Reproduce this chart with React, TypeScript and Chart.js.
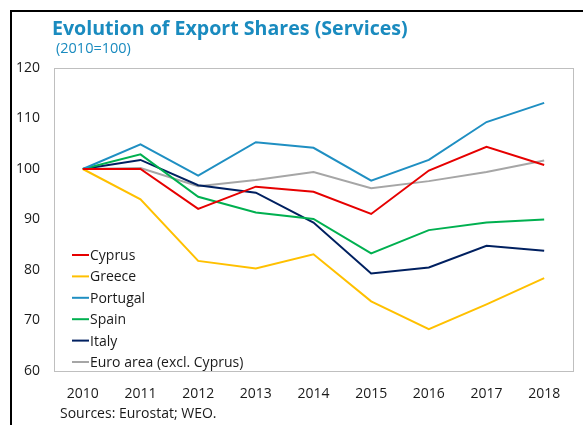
import React, { useEffect, useRef } from "react";
import { Chart, registerables } from "chart.js";

Chart.register(...registerables);

const years = ["2010", "2011", "2012", "2013", "2014", "2015", "2016", "2017", "2018"];
const cyprus = [100, 100.0, 92.1, 96.5, 95.5, 91.1, 99.7, 104.4, 100.8];
const greece = [100, 94.0, 81.8, 80.3, 83.1, 73.8, 68.3, 73.2, 78.4];
const portugal = [100, 104.9, 98.7, 105.3, 104.2, 97.7, 101.8, 109.3, 113.1];
const spain = [100, 102.9, 94.5, 91.4, 90.1, 83.3, 87.9, 89.4, 90.0];
const italy = [100, 101.8, 96.8, 95.3, 89.4, 79.3, 80.5, 84.8, 83.8];
const euroArea = [100, 100.2, 96.6, 97.8, 99.4, 96.2, 97.6, 99.4, 101.7];

const seriesNames = ["Cyprus", "Greece", "Portugal", "Spain", "Italy", "Euro area (excl. Cyprus)"];
const seriesColors = ["#e60000", "#ffc000", "#1f8fc2", "#00b050", "#002060", "#a6a6a6"];

const FONT = "'Open Sans', 'Noto Sans', sans-serif";

const legendPlugin = {
  id: "insideLegend",
  afterDraw(chart: any) {
    const ctx = chart.ctx;
    const area = chart.chartArea;
    const x0 = area.left + 18;
    const y0 = area.top + 187;
    const step = 21.4;
    ctx.save();
    ctx.font = `14px ${FONT}`;
    ctx.textBaseline = "middle";
    ctx.textAlign = "left";
    chart.data.datasets.forEach((ds: any, i: number) => {
      const y = y0 + i * step;
      ctx.strokeStyle = ds.borderColor;
      ctx.lineWidth = 2;
      ctx.beginPath();
      ctx.moveTo(x0, y);
      ctx.lineTo(x0 + 17, y);
      ctx.stroke();
      ctx.fillStyle = "#1a1a1a";
      ctx.fillText(ds.label, x0 + 18, y + 1);
    });
    ctx.restore();
  },
};

export default function App() {
  const ref = useRef<HTMLCanvasElement | null>(null);

  useEffect(() => {
    if (!ref.current) return;
    const allData = [cyprus, greece, portugal, spain, italy, euroArea];
    const chart = new Chart(ref.current, {
      type: "line",
      data: {
        labels: years,
        datasets: allData.map((d, i) => ({
          label: seriesNames[i],
          data: d,
          borderColor: seriesColors[i],
          backgroundColor: seriesColors[i],
          borderWidth: 2,
          pointRadius: 0,
          tension: 0,
          fill: false,
        })),
      },
      options: {
        animation: false,
        responsive: false,
        maintainAspectRatio: false,
        layout: { padding: { left: 0, right: 10, top: 68, bottom: 0 } },
        plugins: {
          legend: { display: false },
          title: { display: false },
          tooltip: { enabled: false },
        },
        scales: {
          x: {
            type: "category",
            offset: true,
            grid: { display: false, drawTicks: false },
            border: { display: true, color: "#bfbfbf", width: 1 },
            ticks: {
              color: "#1a1a1a",
              font: { family: FONT, size: 14 },
              padding: 15,
              maxRotation: 0,
            },
            afterFit(scale: any) {
              scale.height = 54;
            },
          },
          y: {
            min: 60,
            max: 120,
            grid: { display: false, drawTicks: false },
            border: { display: true, color: "#bfbfbf", width: 1 },
            ticks: {
              stepSize: 10,
              color: "#1a1a1a",
              font: { family: FONT, size: 14 },
              padding: 14,
            },
            afterFit(scale: any) {
              scale.width = 54;
            },
          },
          yRight: {
            position: "right",
            min: 60,
            max: 120,
            grid: { display: false, drawTicks: false },
            border: { display: true, color: "#bfbfbf", width: 1 },
            ticks: { display: false },
            afterFit(scale: any) {
              scale.width = 0;
            },
          },
          xTop: {
            type: "category",
            position: "top",
            labels: years,
            grid: { display: false, drawTicks: false },
            border: { display: true, color: "#bfbfbf", width: 1 },
            ticks: { display: false },
            afterFit(scale: any) {
              scale.height = 0;
            },
          },
        },
      },
      plugins: [legendPlugin],
    } as any);
    return () => chart.destroy();
  }, []);

  return (
    <div style={{ position: "fixed", left: 0, top: 0, width: 583, height: 425, background: "#fff", overflow: "hidden" }}>
      <canvas ref={ref} width={583} height={425} style={{ position: "absolute", left: 0, top: 0, width: 583, height: 425 }} />
      <div style={{ position: "absolute", left: 10, top: 10, width: 573, height: 2, background: "#000" }} />
      <div style={{ position: "absolute", left: 10, top: 10, width: 2, height: 415, background: "#000" }} />
      <div style={{ position: "absolute", left: 52, top: 15, fontFamily: FONT, fontWeight: 700, fontSize: 19.6, color: "#1a8bbf", whiteSpace: "nowrap", lineHeight: "26px" }}>
        Evolution of Export Shares (Services)
      </div>
      <div style={{ position: "absolute", left: 56, top: 39, fontFamily: FONT, fontSize: 14.5, color: "#1a8bbf", whiteSpace: "nowrap", lineHeight: "18px" }}>
        (2010=100)
      </div>
      <div style={{ position: "absolute", left: 60, top: 403, fontFamily: FONT, fontSize: 14, color: "#1a1a1a", whiteSpace: "nowrap", lineHeight: "20px" }}>
        Sources: Eurostat; WEO.
      </div>
    </div>
  );
}
